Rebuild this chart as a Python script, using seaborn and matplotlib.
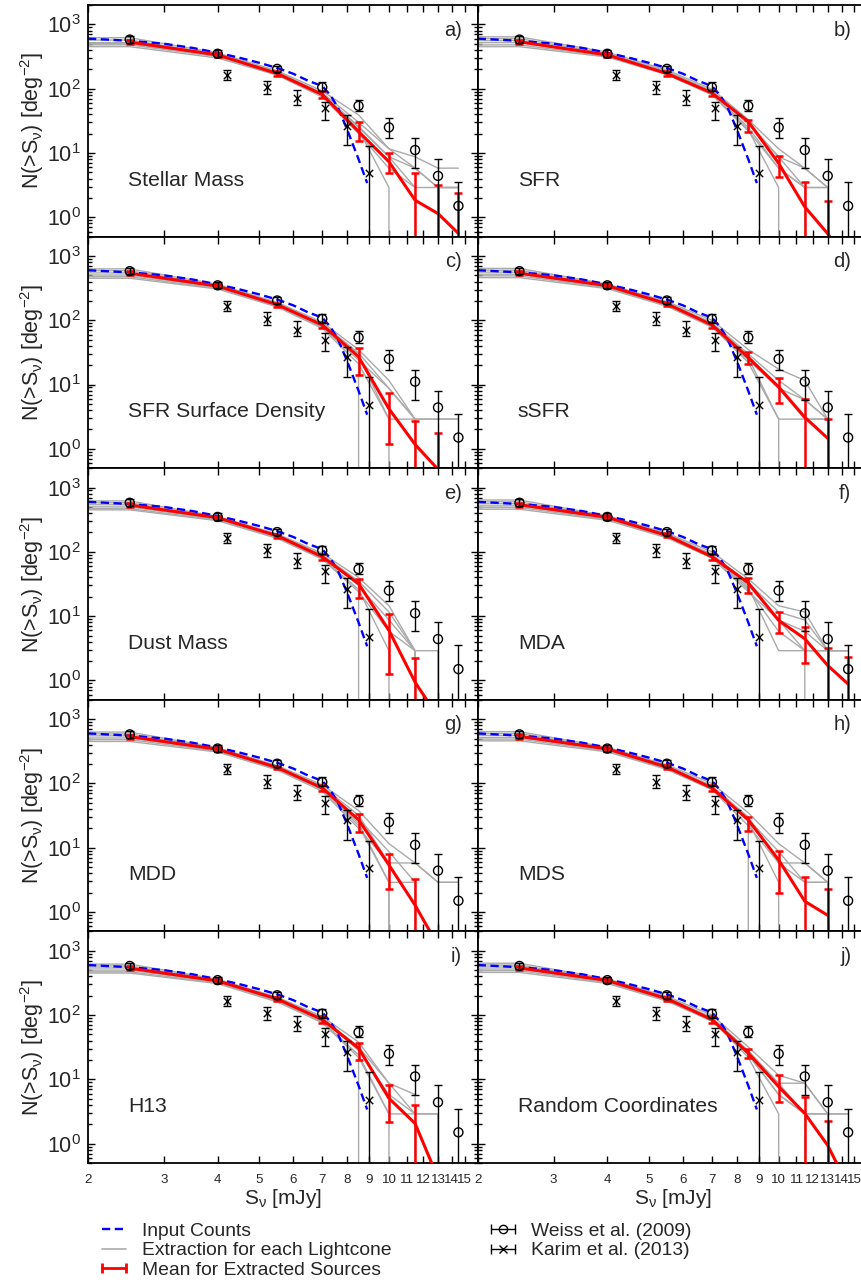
import numpy as np
import pandas as pd
import matplotlib
matplotlib.use('Agg')
import matplotlib.pyplot as plt
import seaborn as sns
from matplotlib.lines import Line2D
from matplotlib.ticker import FixedLocator, LogLocator, NullFormatter, NullLocator, FuncFormatter
from matplotlib.legend_handler import HandlerLine2D, HandlerTuple

sns.set_style('ticks')
plt.rcParams['font.family'] = ['Liberation Sans', 'DejaVu Sans']
plt.rcParams['mathtext.default'] = 'regular'

# flux bins (mJy)
s_bins = [2.5, 4.0, 5.5, 7.0, 8.5, 10.0, 11.5, 13.0, 14.5]
s_gray = [2.0, 2.5, 4.0, 5.5, 7.0, 8.5, 10.0, 11.5, 13.0, 14.5]

# Weiss et al. (2009)
weiss_s = [2.5, 4.0, 5.5, 7.0, 8.5, 10.0, 11.5, 13.0, 14.5]
weiss_n = [580, 349, 203, 105, 54, 25, 11.1, 4.4, 1.5]
weiss_lo = [518, 313, 180, 91, 45, 17, 5.8, 0, 0]
weiss_hi = [656, 397, 229, 125, 67, 34.8, 17, 8.05, 3.5]

# Karim et al. (2013)
karim_s = [4.2, 5.2, 6.1, 7.1, 8.0, 9.0]
karim_n = [165, 106, 71.5, 50, 26.7, 4.8]
karim_lo = [138, 84, 56, 33, 13.3, 0]
karim_hi = [198, 133, 96, 63, 39, 12.9]

# input counts
input_s = [2.0, 2.5, 3.0, 3.5, 4.0, 4.5, 5.0, 5.5, 6.0, 6.5, 7.0, 7.3, 7.6, 8.0, 8.5, 8.9]
input_n = [600, 555, 500, 430, 362, 302, 252, 210, 170, 132, 110, 80, 52, 23, 8, 3.4]

panels = ['a', 'b', 'c', 'd', 'e', 'f', 'g', 'h', 'i', 'j']
panel_names = ['Stellar Mass', 'SFR', 'SFR Surface Density', 'sSFR', 'Dust Mass',
               'MDA', 'MDD', 'MDS', 'H13', 'Random Coordinates']

nan = np.nan
red_mean = {
    'a': [530, 335, 172, 81, 21.5, 7.3, 1.84, 1.14, 0.56],
    'b': [535, 335, 172, 85.7, 30.8, 6.9, 1.45, 0.556, 0.2],
    'c': [540, 340, 175, 84.5, 27, 4.2, 1.17, 0.48, nan],
    'd': [540, 345, 180, 84.5, 26.3, 9.2, 3.1, 1.46, nan],
    'e': [535, 340, 178, 84, 32, 6.0, 0.94, 0.27, nan],
    'f': [540, 345, 180, 84, 33, 8.6, 4.45, 1.71, 0.88],
    'g': [535, 340, 177, 85, 27.2, 5.4, 1.28, 0.3, nan],
    'h': [540, 345, 180, 85, 27.2, 6.45, 1.47, 0.89, nan],
    'i': [535, 340, 178, 85, 30.6, 5.07, 2.06, 0.29, nan],
    'j': [540, 345, 180, 85, 25.6, 7.7, 2.95, 0.94, 0.22],
}
red_lo = {
    'a': [490, 315, 160, 72, 15.6, 4.8, 0, 0, 0],
    'b': [495, 315, 160, 76, 21.5, 4.17, 0, 0, 0.2],
    'c': [500, 318, 163, 75, 14.3, 1.19, 0, 0, nan],
    'd': [500, 322, 168, 76, 21.1, 5.2, 0, 0, nan],
    'e': [495, 318, 165, 75, 19.5, 1.24, 0, 0.27, nan],
    'f': [500, 322, 168, 76, 23, 5.5, 1.86, 0, 0],
    'g': [495, 318, 165, 76, 17.5, 2.25, 0, 0.3, nan],
    'h': [500, 322, 168, 76, 18.5, 2.0, 0, 0, nan],
    'i': [495, 318, 165, 76, 20, 2.18, 0, 0.29, nan],
    'j': [500, 322, 168, 76, 21.3, 4.5, 0, 0, 0.22],
}
red_hi = {
    'a': [575, 360, 185, 92, 30.8, 10.1, 4.9, 3.16, 2.4],
    'b': [580, 360, 185, 96, 32.8, 8.95, 3.56, 1.8, 0.2],
    'c': [580, 365, 188, 95, 37, 7.5, 2.67, 1.77, nan],
    'd': [580, 370, 193, 94, 32.3, 12.7, 6.0, 2.93, nan],
    'e': [575, 365, 190, 94, 37.2, 10.9, 2.25, 0.27, nan],
    'f': [580, 370, 193, 94, 38.6, 11.6, 6.8, 3.2, 2.3],
    'g': [575, 365, 190, 95, 33.8, 8.0, 3.26, 0.3, nan],
    'h': [580, 370, 193, 95, 30.6, 9.0, 3.46, 2.27, nan],
    'i': [575, 365, 190, 95, 36.6, 8.2, 3.98, 0.29, nan],
    'j': [580, 370, 193, 95, 29.5, 11.7, 5.36, 2.26, 0.22],
}

# extraction for each lightcone (rows = lightcones, columns = s_gray)
gray_runs = {
    'a': [[620, 620, 360, 190, 92, 39, 11.6, 8.7, 5.8, 5.8],
          [570, 570, 345, 182, 86, 30, 11.6, 5.8, 2.9, 2.9],
          [520, 520, 330, 175, 82, 26, 8.7, 5.8, 2.9, 2.9],
          [480, 480, 315, 168, 78, 23, 2.9, 0, 0, 0],
          [450, 450, 300, 162, 74, 20, 5.8, 2.9, 2.9, 2.9],
          [500, 500, 325, 170, 80, 25, 8.7, 2.9, 0, 0]],
    'b': [[640, 640, 370, 195, 98, 33, 11.6, 5.8, 2.9, 0],
          [600, 600, 352, 186, 92, 30, 8.7, 5.8, 2.9, 0],
          [560, 560, 340, 180, 88, 28, 8.7, 2.9, 2.9, 0],
          [520, 520, 330, 175, 85, 25, 5.8, 2.9, 2.9, 0],
          [480, 480, 320, 170, 82, 23, 2.9, 0, 0, 0],
          [450, 450, 310, 165, 80, 22, 5.8, 2.9, 0, 0]],
    'c': [[630, 630, 362, 190, 93, 35, 11.6, 2.9, 0, 0],
          [590, 590, 348, 182, 88, 31, 8.7, 2.9, 2.9, 2.9],
          [545, 545, 336, 176, 85, 28, 2.9, 2.9, 2.9, 2.9],
          [505, 505, 326, 171, 82, 30, 0, 0, 0, 0],
          [475, 475, 316, 166, 78, 24, 8.7, 2.9, 0, 0],
          [450, 450, 306, 161, 75, 21, 2.9, 0, 0, 0]],
    'd': [[640, 640, 365, 195, 100, 35, 17.4, 11.6, 2.9, 0],
          [600, 600, 350, 188, 92, 30, 11.6, 5.8, 2.9, 0],
          [560, 560, 340, 180, 88, 28, 8.7, 5.8, 2.9, 0],
          [520, 520, 330, 175, 85, 26, 2.9, 2.9, 2.9, 0],
          [490, 490, 320, 170, 80, 22, 2.9, 0, 0, 0],
          [460, 460, 310, 165, 78, 24, 8.7, 2.9, 2.9, 0]],
    'e': [[620, 620, 355, 190, 95, 40, 14.5, 2.9, 2.9, 0],
          [580, 580, 345, 185, 90, 35, 11.6, 2.9, 0, 0],
          [540, 540, 335, 178, 86, 30, 8.7, 2.9, 0, 0],
          [500, 500, 325, 172, 82, 32, 0, 0, 0, 0],
          [470, 470, 315, 168, 80, 26, 2.9, 0, 0, 0],
          [450, 450, 305, 162, 77, 24, 5.8, 2.9, 0, 0]],
    'f': [[640, 640, 365, 195, 100, 38, 14.5, 11.6, 2.9, 2.9],
          [600, 600, 350, 188, 92, 33, 11.6, 8.7, 2.9, 2.9],
          [560, 560, 340, 180, 88, 30, 8.7, 5.8, 2.9, 0],
          [520, 520, 330, 175, 85, 28, 2.9, 2.9, 2.9, 2.9],
          [490, 490, 320, 170, 82, 26, 5.8, 2.9, 0, 0],
          [460, 460, 310, 165, 80, 24, 8.7, 2.9, 2.9, 0]],
    'g': [[630, 630, 360, 190, 95, 38, 11.6, 5.8, 2.9, 2.9],
          [590, 590, 348, 183, 90, 32, 5.8, 5.8, 2.9, 2.9],
          [550, 550, 338, 177, 86, 28, 8.7, 2.9, 0, 0],
          [510, 510, 328, 172, 82, 24, 2.9, 0, 0, 0],
          [480, 480, 318, 167, 80, 22, 2.9, 2.9, 0, 0],
          [450, 450, 308, 162, 76, 20, 5.8, 0, 0, 0]],
    'h': [[640, 640, 365, 195, 100, 35, 11.6, 5.8, 2.9, 0],
          [600, 600, 352, 188, 92, 30, 5.8, 5.8, 2.9, 0],
          [560, 560, 340, 180, 88, 28, 8.7, 2.9, 2.9, 0],
          [520, 520, 330, 175, 85, 26, 2.9, 0, 0, 0],
          [490, 490, 320, 170, 82, 30, 0, 0, 0, 0],
          [460, 460, 310, 165, 80, 22, 5.8, 2.9, 2.9, 0]],
    'i': [[620, 620, 360, 190, 95, 38, 8.7, 2.9, 2.9, 0],
          [580, 580, 350, 185, 90, 32, 8.7, 5.8, 0, 0],
          [540, 540, 338, 178, 86, 28, 5.8, 2.9, 0, 0],
          [500, 500, 328, 172, 82, 30, 0, 0, 0, 0],
          [470, 470, 318, 166, 79, 24, 2.9, 2.9, 2.9, 0],
          [450, 450, 308, 160, 76, 22, 2.9, 0, 0, 0]],
    'j': [[640, 640, 365, 195, 100, 32, 11.6, 8.7, 2.9, 2.9],
          [600, 600, 352, 188, 92, 28, 8.7, 8.7, 2.9, 2.9],
          [560, 560, 340, 180, 88, 26, 8.7, 2.9, 2.9, 0],
          [520, 520, 330, 175, 85, 24, 5.8, 2.9, 2.9, 0],
          [490, 490, 320, 170, 82, 22, 2.9, 0, 0, 0],
          [460, 460, 310, 165, 80, 25, 5.8, 2.9, 0, 0]],
}

W, H = 861, 1282
ROW_H = 231.6
GRAY = '#aaaaaa'
DASH = (0, (3.5, 1.9))
fig = plt.figure(figsize=(W / 100, H / 100), dpi=100)

for k, tag in enumerate(panels):
    r, c = divmod(k, 2)
    x0 = 88 if c == 0 else 477.7
    y0 = 5 + r * ROW_H
    ax = fig.add_axes([x0 / W, 1 - (y0 + ROW_H) / H, 390 / W, ROW_H / H])

    # gray lightcone extractions
    rows = [(i, s, n) for i, run in enumerate(gray_runs[tag]) for s, n in zip(s_gray, run)]
    gdf = pd.DataFrame(rows, columns=['run', 'S', 'N'])
    sns.lineplot(data=gdf, x='S', y='N', units='run', estimator=None, color=GRAY,
                 lw=1.0, ax=ax, legend=False, zorder=1)

    # input counts
    sns.lineplot(x=input_s, y=input_n, color='blue', lw=1.7, linestyle=DASH, ax=ax, zorder=2)

    # mean of extracted sources
    rdf = pd.DataFrame({'S': s_bins, 'N': red_mean[tag], 'lo': red_lo[tag],
                        'hi': red_hi[tag]}).dropna()
    sns.lineplot(data=rdf, x='S', y='N', color='red', lw=2.2, ax=ax, zorder=3)
    ax.errorbar(rdf['S'], rdf['N'], yerr=[rdf['N'] - rdf['lo'], rdf['hi'] - rdf['N']],
                fmt='none', ecolor='red', elinewidth=1.8, capsize=2.8, capthick=1.8, zorder=3)

    # observations
    wn = np.array(weiss_n)
    ax.errorbar(weiss_s, wn, yerr=[wn - np.array(weiss_lo), np.array(weiss_hi) - wn],
                fmt='none', ecolor='black', elinewidth=1.0, capsize=2.8, capthick=1.0, zorder=4)
    kn = np.array(karim_n)
    ax.errorbar(karim_s, kn, yerr=[kn - np.array(karim_lo), np.array(karim_hi) - kn],
                fmt='none', ecolor='black', elinewidth=1.0, capsize=2.8, capthick=1.0, zorder=4)
    sns.scatterplot(x=weiss_s, y=weiss_n, marker='o', s=42, facecolor='none',
                    edgecolor='black', linewidth=1.0, ax=ax, zorder=5)
    sns.scatterplot(x=karim_s, y=karim_n, marker='x', s=28, color='black',
                    linewidth=1.0, ax=ax, zorder=5)

    ax.set_xscale('log')
    ax.set_yscale('log')
    ax.set_xlim(2, 16.1)
    ax.set_ylim(0.5, 2000)

    ax.xaxis.set_major_locator(FixedLocator(list(range(2, 16))))
    ax.xaxis.set_minor_locator(NullLocator())
    ax.xaxis.set_major_formatter(FuncFormatter(lambda v, p: f'{v:g}'))
    ax.yaxis.set_major_locator(LogLocator(base=10))
    ax.yaxis.set_minor_locator(LogLocator(base=10, subs=range(2, 10)))
    ax.yaxis.set_minor_formatter(NullFormatter())
    ax.tick_params(which='both', direction='in', top=True, right=True, width=1.0, color='black')
    ax.tick_params(which='major', length=5)
    ax.tick_params(which='minor', length=3)
    ax.tick_params(axis='x', labelsize=9.6, pad=8)
    ax.tick_params(axis='y', labelsize=15.5, pad=5)
    for sp in ax.spines.values():
        sp.set_linewidth(1.3)
        sp.set_color('black')

    ax.set_xlabel('')
    ax.set_ylabel('')
    if r == 4:
        ax.set_xlabel(r'S$_{ν}$ [mJy]', fontsize=15, labelpad=1)
    else:
        ax.tick_params(axis='x', labelbottom=False)
    if c == 0:
        ax.set_ylabel(r'N(>S$_{ν}$) [deg$^{-2}$]', fontsize=15.5, labelpad=1)
    else:
        ax.tick_params(axis='y', labelleft=False)

    ax.text(0.103, 0.244, panel_names[k], transform=ax.transAxes, ha='left', va='center',
            fontsize=15.2)
    ax.text(0.958, 0.892, tag + ')', transform=ax.transAxes, ha='right', va='center',
            fontsize=14.5)

# legends
h_input = Line2D([], [], color='blue', lw=1.7, ls=DASH)
h_gray = Line2D([], [], color=GRAY, lw=1.2)
h_red = Line2D([], [], color='red', lw=2.0, marker='|', ms=7, mew=2.0)
h_bar = Line2D([], [], color='black', lw=1.0, marker='|', ms=7, mew=1.0)
h_circ = Line2D([], [], ls='none', marker='o', mfc='none', mec='black', ms=6, mew=1.0)
h_cross = Line2D([], [], ls='none', marker='x', color='black', ms=6, mew=1.0)

leg_kw = dict(loc='upper left', frameon=False, numpoints=2, handlelength=1.85,
              handletextpad=0.55, labelspacing=0.12, borderpad=0, borderaxespad=0,
              fontsize=13.9)
fig.legend([h_input, h_gray, h_red],
           ['Input Counts', 'Extraction for each Lightcone', 'Mean for Extracted Sources'],
           bbox_to_anchor=(96 / W, 1 - 1222 / H), **leg_kw)
fig.legend([(h_bar, h_circ), (h_bar, h_cross)],
           ['Weiss et al. (2009)', 'Karim et al. (2013)'],
           handler_map={h_circ: HandlerLine2D(numpoints=1), h_cross: HandlerLine2D(numpoints=1),
                        tuple: HandlerTuple(ndivide=1)},
           bbox_to_anchor=(485 / W, 1 - 1222 / H), **leg_kw)

fig.savefig('out.png', dpi=100)
